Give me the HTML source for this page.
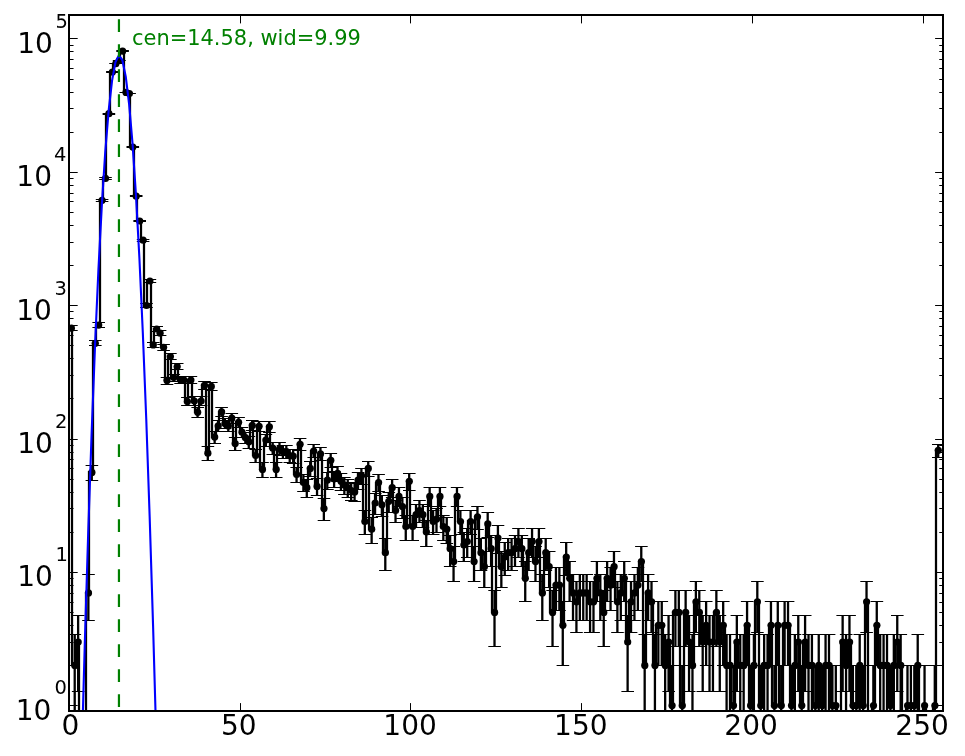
<!DOCTYPE html>
<html><head><meta charset="utf-8"><title>plot</title>
<style>html,body{margin:0;padding:0;background:#fff}body{width:965px;height:756px;overflow:hidden}svg{display:block}text{font-family:"DejaVu Sans","Liberation Sans",sans-serif;fill:#000}</style></head><body>
<svg width="965" height="756" viewBox="0 0 965 756">
<rect x="0" y="0" width="965" height="756" fill="#fff"/>
<defs><clipPath id="ax"><rect x="69.0" y="15.0" width="874.0" height="696.0"/></clipPath></defs>
<g clip-path="url(#ax)">
<path d="M72 328V665H76V642H79V900H83V900H86V593H89V472H93V343H96V325H100V200H103V178H106V114H110V72H113V64H117V61H120V51H124V92H127V94H130V147H134V196H137V221H141V240H144V306H147V281H151V345H154V329H158V333H161V347H165V380H168V356H171V378H175V367H178V380H182V380H185V402H188V380H192V401H195V412H199V401H202V385H206V453H209V386H212V437H216V426H219V412H223V424H226V426H229V418H233V444H236V422H240V432H243V438H246V442H250V425H253V455H257V426H260V469H264V440H267V427H270V448H274V469H277V449H281V452H284V452H287V455H291V456H294V474H298V444H301V483H305V488H308V468H311V451H315V486H318V454H322V509H325V480H328V460H332V479H335V473H339V481H342V485H346V488H349V490H352V492H356V480H359V476H363V521H366V468H369V529H373V503H376V483H380V505H383V553H387V501H390V488H393V511H397V496H400V507H404V527H407V481H410V527H414V515H417V511H421V515H424V532H428V496H431V521H434V519H438V496H441V527H445V529H448V549H451V562H455V496H458V521H462V545H465V541H468V521H472V562H475V517H479V553H482V567H486V524H489V549H492V612H496V538H499V567H503V557H506V553H509V553H513V549H516V541H520V549H523V578H527V553H530V541H533V562H537V541H540V593H544V553H547V567H550V612H554V585H557V585H561V625H564V557H568V578H571V593H574V602H578V593H581V593H585V593H588V602H591V602H595V578H598V593H602V612H605V578H609V585H612V567H615V602H619V593H622V578H626V642H629V602H632V593H636V585H639V562H643V665H646V593H650V602H653V665H656V625H660V625H663V665H667V642H670V706H673V612H677V612H680V706H684V612H687V642H691V665H694V602H697V612H701V642H704V625H708V642H711V642H714V612H718V642H721V625H725V665H728V665H731V706H735V642H738V665H742V665H745V625H749V706H752V665H755V602H759V706H762V665H766V665H769V625H772V706H776V625H779V706H783V625H786V625H790V706H793V665H796V642H800V706H803V642H807V665H810V665H813V706H817V665H820V706H824V665H827V665H831V706H834V706H837V900H841V642H844V665H848V642H851V706H854V706H858V665H861V706H865V602H868V900H872V706H875V625H878V665H882V665H885V665H889V706H892V665H895V642H899V665H902V900H906V706H909V706H913V706H916V665H919V900H923V706H926V900H930V900H933V706H936V450H940" fill="none" stroke="#000" stroke-width="2.25" stroke-linejoin="miter"/>
<path d="M71.30 326.0V330.4M74.71 634.5V720.0M78.13 615.5V691.8M88.37 574.3V620.4M91.78 465.1V480.7M95.19 340.8V345.9M98.60 322.9V327.3M102.02 199.6V201.0M105.43 177.8V179.0M108.84 113.4V114.1M112.26 71.9V72.3M115.67 63.5V63.9M119.08 60.5V60.9M122.50 51.0V51.4M125.91 92.1V92.7M129.32 93.2V93.8M132.73 146.6V147.6M136.15 195.5V196.9M139.56 220.1V221.9M142.97 239.2V241.3M146.39 303.7V307.4M149.80 279.5V282.5M153.21 342.3V347.5M156.62 326.8V331.3M160.04 330.9V335.6M163.45 344.7V350.0M166.86 377.0V384.0M170.28 353.7V359.4M173.69 374.2V381.0M177.10 363.5V369.7M180.52 376.6V383.6M183.93 376.6V383.6M187.34 397.6V406.0M190.76 376.6V383.6M194.17 397.0V405.3M197.58 407.9V417.1M200.99 397.0V405.3M204.41 381.7V389.0M207.82 447.0V460.2M211.23 382.8V390.2M214.65 431.6V443.1M218.06 420.9V431.3M221.47 407.5V416.7M224.88 418.7V428.9M228.30 420.9V431.3M231.71 413.4V423.1M235.12 437.9V450.0M238.54 417.5V427.5M241.95 427.0V438.0M245.36 432.2V443.7M248.78 436.1V448.0M252.19 420.5V430.8M255.60 449.1V462.6M259.01 421.4V431.8M262.43 462.3V477.4M265.84 434.4V446.1M269.25 421.8V432.3M272.67 442.2V454.9M276.08 462.3V477.4M279.49 442.9V455.6M282.91 445.6V458.6M286.32 445.6V458.6M289.73 449.1V462.6M293.14 449.9V463.4M296.56 467.1V483.0M299.97 438.5V450.7M303.38 474.7V491.7M306.80 479.5V497.3M310.21 461.4V476.4M313.62 444.9V457.8M317.04 478.2V495.8M320.45 447.7V461.0M323.86 498.8V520.2M327.27 472.4V489.1M330.69 453.7V467.7M334.10 471.3V487.8M337.51 466.1V481.8M340.93 473.5V490.4M344.34 477.0V494.4M347.75 479.5V497.3M351.17 482.0V500.3M354.58 483.4V501.9M357.99 472.4V489.1M361.40 468.1V484.1M364.82 510.7V534.7M368.23 461.4V476.4M371.64 517.8V543.5M375.06 493.7V514.1M378.47 474.7V491.7M381.88 495.4V516.1M385.30 539.0V570.7M388.71 492.1V512.2M392.12 479.5V497.3M395.53 500.6V522.4M398.95 487.6V506.8M402.36 497.1V518.1M405.77 515.3V540.4M409.19 473.5V490.4M412.60 515.3V540.4M416.01 504.5V527.0M419.43 500.6V522.4M422.84 504.5V527.0M426.25 520.4V546.7M429.66 487.6V506.8M433.08 510.7V534.7M436.49 508.6V532.0M439.90 487.6V506.8M443.32 515.3V540.4M446.73 517.8V543.5M450.14 535.4V566.0M453.56 546.9V581.4M456.97 487.6V506.8M460.38 510.7V534.7M463.79 532.0V561.6M467.21 528.9V557.6M470.62 510.7V534.7M474.03 546.9V581.4M477.45 506.5V529.5M480.86 539.0V570.7M484.27 551.4V587.5M487.69 513.0V537.5M491.10 535.4V566.0M494.51 590.9V646.7M497.92 525.9V553.7M501.34 551.4V587.5M504.75 542.8V575.8M508.16 539.0V570.7M511.58 539.0V570.7M514.99 535.4V566.0M518.40 528.9V557.6M521.82 535.4V566.0M525.23 561.6V601.8M528.64 539.0V570.7M532.05 528.9V557.6M535.47 546.9V581.4M538.88 528.9V557.6M542.29 574.3V620.4M545.71 539.0V570.7M549.12 551.4V587.5M552.53 590.9V646.7M555.95 567.6V610.4M559.36 567.6V610.4M562.77 601.8V665.4M566.18 542.8V575.8M569.60 561.6V601.8M573.01 574.3V620.4M576.42 582.0V632.2M579.84 574.3V620.4M583.25 574.3V620.4M586.66 574.3V620.4M590.08 582.0V632.2M593.49 582.0V632.2M596.90 561.6V601.8M600.31 574.3V620.4M603.73 590.9V646.7M607.14 561.6V601.8M610.55 567.6V610.4M613.97 551.4V587.5M617.38 582.0V632.2M620.79 574.3V620.4M624.21 561.6V601.8M627.62 615.5V691.8M631.03 582.0V632.2M634.44 574.3V620.4M637.86 567.6V610.4M641.27 546.9V581.4M644.68 634.5V720.0M648.10 574.3V620.4M651.51 582.0V632.2M654.92 634.5V720.0M658.34 601.8V665.4M661.75 601.8V665.4M665.16 634.5V720.0M668.57 615.5V691.8M671.99 665.4V720.0M675.40 590.9V646.7M678.81 590.9V646.7M682.23 665.4V720.0M685.64 590.9V646.7M689.05 615.5V691.8M692.47 634.5V720.0M695.88 582.0V632.2M699.29 590.9V646.7M702.70 615.5V691.8M706.12 601.8V665.4M709.53 615.5V691.8M712.94 615.5V691.8M716.36 590.9V646.7M719.77 615.5V691.8M723.18 601.8V665.4M726.60 634.5V720.0M730.01 634.5V720.0M733.42 665.4V720.0M736.83 615.5V691.8M740.25 634.5V720.0M743.66 634.5V720.0M747.07 601.8V665.4M750.49 665.4V720.0M753.90 634.5V720.0M757.31 582.0V632.2M760.73 665.4V720.0M764.14 634.5V720.0M767.55 634.5V720.0M770.96 601.8V665.4M774.38 665.4V720.0M777.79 601.8V665.4M781.20 665.4V720.0M784.62 601.8V665.4M788.03 601.8V665.4M791.44 665.4V720.0M794.86 634.5V720.0M798.27 615.5V691.8M801.68 665.4V720.0M805.09 615.5V691.8M808.51 634.5V720.0M811.92 634.5V720.0M815.33 665.4V720.0M818.75 634.5V720.0M822.16 665.4V720.0M825.57 634.5V720.0M828.99 634.5V720.0M832.40 665.4V720.0M835.81 665.4V720.0M842.64 615.5V691.8M846.05 634.5V720.0M849.46 615.5V691.8M852.88 665.4V720.0M856.29 665.4V720.0M859.70 634.5V720.0M863.12 665.4V720.0M866.53 582.0V632.2M873.35 665.4V720.0M876.77 601.8V665.4M880.18 634.5V720.0M883.59 634.5V720.0M887.01 634.5V720.0M890.42 665.4V720.0M893.83 634.5V720.0M897.25 615.5V691.8M900.66 634.5V720.0M907.48 665.4V720.0M910.90 665.4V720.0M914.31 665.4V720.0M917.72 634.5V720.0M924.55 665.4V720.0M934.79 665.4V720.0M938.20 444.2V457.1" fill="none" stroke="#000" stroke-width="2.3"/>
<path d="M65.1 325.5H77.7M65.1 330.5H77.7M68.5 634.5H81.1M71.9 615.5H84.5M71.9 691.5H84.5M82.2 574.5H94.8M82.2 620.5H94.8M85.6 465.5H98.2M85.6 480.5H98.2M89.0 340.5H101.6M89.0 345.5H101.6M92.4 322.5H105.0M92.4 327.5H105.0M95.8 199.5H108.4M95.8 201.5H108.4M99.2 177.5H111.8M99.2 179.5H111.8M102.6 113.5H115.2M102.6 114.5H115.2M106.1 71.5H118.7M106.1 72.5H118.7M109.5 63.5H122.1M109.5 63.5H122.1M112.9 60.5H125.5M112.9 60.5H125.5M116.3 50.5H128.9M116.3 51.5H128.9M119.7 92.5H132.3M119.7 92.5H132.3M123.1 93.5H135.7M123.1 93.5H135.7M126.5 146.5H139.1M126.5 147.5H139.1M129.9 195.5H142.5M129.9 196.5H142.5M133.4 220.5H146.0M133.4 221.5H146.0M136.8 239.5H149.4M136.8 241.5H149.4M140.2 303.5H152.8M140.2 307.5H152.8M143.6 279.5H156.2M143.6 282.5H156.2M147.0 342.5H159.6M147.0 347.5H159.6M150.4 326.5H163.0M150.4 331.5H163.0M153.8 330.5H166.4M153.8 335.5H166.4M157.3 344.5H169.9M157.3 350.5H169.9M160.7 377.5H173.3M160.7 384.5H173.3M164.1 353.5H176.7M164.1 359.5H176.7M167.5 374.5H180.1M167.5 381.5H180.1M170.9 363.5H183.5M170.9 369.5H183.5M174.3 376.5H186.9M174.3 383.5H186.9M177.7 376.5H190.3M177.7 383.5H190.3M181.1 397.5H193.7M181.1 405.5H193.7M184.6 376.5H197.2M184.6 383.5H197.2M188.0 396.5H200.6M188.0 405.5H200.6M191.4 407.5H204.0M191.4 417.5H204.0M194.8 396.5H207.4M194.8 405.5H207.4M198.2 381.5H210.8M198.2 389.5H210.8M201.6 446.5H214.2M201.6 460.5H214.2M205.0 382.5H217.6M205.0 390.5H217.6M208.4 431.5H221.0M208.4 443.5H221.0M211.9 420.5H224.5M211.9 431.5H224.5M215.3 407.5H227.9M215.3 416.5H227.9M218.7 418.5H231.3M218.7 428.5H231.3M222.1 420.5H234.7M222.1 431.5H234.7M225.5 413.5H238.1M225.5 423.5H238.1M228.9 437.5H241.5M228.9 450.5H241.5M232.3 417.5H244.9M232.3 427.5H244.9M235.7 427.5H248.3M235.7 437.5H248.3M239.2 432.5H251.8M239.2 443.5H251.8M242.6 436.5H255.2M242.6 448.5H255.2M246.0 420.5H258.6M246.0 430.5H258.6M249.4 449.5H262.0M249.4 462.5H262.0M252.8 421.5H265.4M252.8 431.5H265.4M256.2 462.5H268.8M256.2 477.5H268.8M259.6 434.5H272.2M259.6 446.5H272.2M263.1 421.5H275.7M263.1 432.5H275.7M266.5 442.5H279.1M266.5 454.5H279.1M269.9 462.5H282.5M269.9 477.5H282.5M273.3 442.5H285.9M273.3 455.5H285.9M276.7 445.5H289.3M276.7 458.5H289.3M280.1 445.5H292.7M280.1 458.5H292.7M283.5 449.5H296.1M283.5 462.5H296.1M286.9 449.5H299.5M286.9 463.5H299.5M290.4 467.5H303.0M290.4 482.5H303.0M293.8 438.5H306.4M293.8 450.5H306.4M297.2 474.5H309.8M297.2 491.5H309.8M300.6 479.5H313.2M300.6 497.5H313.2M304.0 461.5H316.6M304.0 476.5H316.6M307.4 444.5H320.0M307.4 457.5H320.0M310.8 478.5H323.4M310.8 495.5H323.4M314.2 447.5H326.8M314.2 460.5H326.8M317.7 498.5H330.3M317.7 520.5H330.3M321.1 472.5H333.7M321.1 489.5H333.7M324.5 453.5H337.1M324.5 467.5H337.1M327.9 471.5H340.5M327.9 487.5H340.5M331.3 466.5H343.9M331.3 481.5H343.9M334.7 473.5H347.3M334.7 490.5H347.3M338.1 477.5H350.7M338.1 494.5H350.7M341.6 479.5H354.2M341.6 497.5H354.2M345.0 482.5H357.6M345.0 500.5H357.6M348.4 483.5H361.0M348.4 501.5H361.0M351.8 472.5H364.4M351.8 489.5H364.4M355.2 468.5H367.8M355.2 484.5H367.8M358.6 510.5H371.2M358.6 534.5H371.2M362.0 461.5H374.6M362.0 476.5H374.6M365.4 517.5H378.0M365.4 543.5H378.0M368.9 493.5H381.5M368.9 514.5H381.5M372.3 474.5H384.9M372.3 491.5H384.9M375.7 495.5H388.3M375.7 516.5H388.3M379.1 538.5H391.7M379.1 570.5H391.7M382.5 492.5H395.1M382.5 512.5H395.1M385.9 479.5H398.5M385.9 497.5H398.5M389.3 500.5H401.9M389.3 522.5H401.9M392.7 487.5H405.3M392.7 506.5H405.3M396.2 497.5H408.8M396.2 518.5H408.8M399.6 515.5H412.2M399.6 540.5H412.2M403.0 473.5H415.6M403.0 490.5H415.6M406.4 515.5H419.0M406.4 540.5H419.0M409.8 504.5H422.4M409.8 527.5H422.4M413.2 500.5H425.8M413.2 522.5H425.8M416.6 504.5H429.2M416.6 527.5H429.2M420.1 520.5H432.7M420.1 546.5H432.7M423.5 487.5H436.1M423.5 506.5H436.1M426.9 510.5H439.5M426.9 534.5H439.5M430.3 508.5H442.9M430.3 532.5H442.9M433.7 487.5H446.3M433.7 506.5H446.3M437.1 515.5H449.7M437.1 540.5H449.7M440.5 517.5H453.1M440.5 543.5H453.1M443.9 535.5H456.5M443.9 566.5H456.5M447.4 546.5H460.0M447.4 581.5H460.0M450.8 487.5H463.4M450.8 506.5H463.4M454.2 510.5H466.8M454.2 534.5H466.8M457.6 532.5H470.2M457.6 561.5H470.2M461.0 528.5H473.6M461.0 557.5H473.6M464.4 510.5H477.0M464.4 534.5H477.0M467.8 546.5H480.4M467.8 581.5H480.4M471.2 506.5H483.8M471.2 529.5H483.8M474.7 538.5H487.3M474.7 570.5H487.3M478.1 551.5H490.7M478.1 587.5H490.7M481.5 512.5H494.1M481.5 537.5H494.1M484.9 535.5H497.5M484.9 566.5H497.5M488.3 590.5H500.9M488.3 646.5H500.9M491.7 525.5H504.3M491.7 553.5H504.3M495.1 551.5H507.7M495.1 587.5H507.7M498.6 542.5H511.2M498.6 575.5H511.2M502.0 538.5H514.6M502.0 570.5H514.6M505.4 538.5H518.0M505.4 570.5H518.0M508.8 535.5H521.4M508.8 566.5H521.4M512.2 528.5H524.8M512.2 557.5H524.8M515.6 535.5H528.2M515.6 566.5H528.2M519.0 561.5H531.6M519.0 601.5H531.6M522.4 538.5H535.0M522.4 570.5H535.0M525.9 528.5H538.5M525.9 557.5H538.5M529.3 546.5H541.9M529.3 581.5H541.9M532.7 528.5H545.3M532.7 557.5H545.3M536.1 574.5H548.7M536.1 620.5H548.7M539.5 538.5H552.1M539.5 570.5H552.1M542.9 551.5H555.5M542.9 587.5H555.5M546.3 590.5H558.9M546.3 646.5H558.9M549.7 567.5H562.3M549.7 610.5H562.3M553.2 567.5H565.8M553.2 610.5H565.8M556.6 601.5H569.2M556.6 665.5H569.2M560.0 542.5H572.6M560.0 575.5H572.6M563.4 561.5H576.0M563.4 601.5H576.0M566.8 574.5H579.4M566.8 620.5H579.4M570.2 581.5H582.8M570.2 632.5H582.8M573.6 574.5H586.2M573.6 620.5H586.2M577.1 574.5H589.6M577.1 620.5H589.6M580.5 574.5H593.1M580.5 620.5H593.1M583.9 581.5H596.5M583.9 632.5H596.5M587.3 581.5H599.9M587.3 632.5H599.9M590.7 561.5H603.3M590.7 601.5H603.3M594.1 574.5H606.7M594.1 620.5H606.7M597.5 590.5H610.1M597.5 646.5H610.1M600.9 561.5H613.5M600.9 601.5H613.5M604.4 567.5H617.0M604.4 610.5H617.0M607.8 551.5H620.4M607.8 587.5H620.4M611.2 581.5H623.8M611.2 632.5H623.8M614.6 574.5H627.2M614.6 620.5H627.2M618.0 561.5H630.6M618.0 601.5H630.6M621.4 615.5H634.0M621.4 691.5H634.0M624.8 581.5H637.4M624.8 632.5H637.4M628.2 574.5H640.8M628.2 620.5H640.8M631.7 567.5H644.3M631.7 610.5H644.3M635.1 546.5H647.7M635.1 581.5H647.7M638.5 634.5H651.1M641.9 574.5H654.5M641.9 620.5H654.5M645.3 581.5H657.9M645.3 632.5H657.9M648.7 634.5H661.3M652.1 601.5H664.7M652.1 665.5H664.7M655.5 601.5H668.1M655.5 665.5H668.1M659.0 634.5H671.6M662.4 615.5H675.0M662.4 691.5H675.0M665.8 665.5H678.4M669.2 590.5H681.8M669.2 646.5H681.8M672.6 590.5H685.2M672.6 646.5H685.2M676.0 665.5H688.6M679.4 590.5H692.0M679.4 646.5H692.0M682.9 615.5H695.5M682.9 691.5H695.5M686.3 634.5H698.9M689.7 581.5H702.3M689.7 632.5H702.3M693.1 590.5H705.7M693.1 646.5H705.7M696.5 615.5H709.1M696.5 691.5H709.1M699.9 601.5H712.5M699.9 665.5H712.5M703.3 615.5H715.9M703.3 691.5H715.9M706.7 615.5H719.3M706.7 691.5H719.3M710.2 590.5H722.8M710.2 646.5H722.8M713.6 615.5H726.2M713.6 691.5H726.2M717.0 601.5H729.6M717.0 665.5H729.6M720.4 634.5H733.0M723.8 634.5H736.4M727.2 665.5H739.8M730.6 615.5H743.2M730.6 691.5H743.2M734.0 634.5H746.6M737.5 634.5H750.1M740.9 601.5H753.5M740.9 665.5H753.5M744.3 665.5H756.9M747.7 634.5H760.3M751.1 581.5H763.7M751.1 632.5H763.7M754.5 665.5H767.1M757.9 634.5H770.5M761.4 634.5H774.0M764.8 601.5H777.4M764.8 665.5H777.4M768.2 665.5H780.8M771.6 601.5H784.2M771.6 665.5H784.2M775.0 665.5H787.6M778.4 601.5H791.0M778.4 665.5H791.0M781.8 601.5H794.4M781.8 665.5H794.4M785.2 665.5H797.8M788.7 634.5H801.3M792.1 615.5H804.7M792.1 691.5H804.7M795.5 665.5H808.1M798.9 615.5H811.5M798.9 691.5H811.5M802.3 634.5H814.9M805.7 634.5H818.3M809.1 665.5H821.7M812.5 634.5H825.1M816.0 665.5H828.6M819.4 634.5H832.0M822.8 634.5H835.4M826.2 665.5H838.8M829.6 665.5H842.2M836.4 615.5H849.0M836.4 691.5H849.0M839.9 634.5H852.5M843.3 615.5H855.9M843.3 691.5H855.9M846.7 665.5H859.3M850.1 665.5H862.7M853.5 634.5H866.1M856.9 665.5H869.5M860.3 581.5H872.9M860.3 632.5H872.9M867.2 665.5H879.8M870.6 601.5H883.2M870.6 665.5H883.2M874.0 634.5H886.6M877.4 634.5H890.0M880.8 634.5H893.4M884.2 665.5H896.8M887.6 634.5H900.2M891.0 615.5H903.6M891.0 691.5H903.6M894.5 634.5H907.1M901.3 665.5H913.9M904.7 665.5H917.3M908.1 665.5H920.7M911.5 634.5H924.1M918.4 665.5H930.9M928.6 665.5H941.2M932.0 444.5H944.6M932.0 457.5H944.6" fill="none" stroke="#000" stroke-width="1"/>
<g fill="#000"><circle cx="71.4" cy="328.2" r="3.6"/><circle cx="74.8" cy="665.4" r="3.6"/><circle cx="78.2" cy="642.0" r="3.6"/><circle cx="88.5" cy="592.9" r="3.6"/><circle cx="91.9" cy="472.4" r="3.6"/><circle cx="95.3" cy="343.3" r="3.6"/><circle cx="98.7" cy="325.1" r="3.6"/><circle cx="102.1" cy="200.3" r="3.6"/><circle cx="105.5" cy="178.4" r="3.6"/><circle cx="108.9" cy="113.7" r="3.6"/><circle cx="112.4" cy="72.1" r="3.6"/><circle cx="115.8" cy="63.7" r="3.6"/><circle cx="119.2" cy="60.7" r="3.6"/><circle cx="122.6" cy="51.2" r="3.6"/><circle cx="126.0" cy="92.4" r="3.6"/><circle cx="129.4" cy="93.5" r="3.6"/><circle cx="132.8" cy="147.1" r="3.6"/><circle cx="136.2" cy="196.2" r="3.6"/><circle cx="139.7" cy="221.0" r="3.6"/><circle cx="143.1" cy="240.2" r="3.6"/><circle cx="146.5" cy="305.5" r="3.6"/><circle cx="149.9" cy="281.0" r="3.6"/><circle cx="153.3" cy="344.9" r="3.6"/><circle cx="156.7" cy="329.0" r="3.6"/><circle cx="160.1" cy="333.2" r="3.6"/><circle cx="163.6" cy="347.3" r="3.6"/><circle cx="167.0" cy="380.4" r="3.6"/><circle cx="170.4" cy="356.5" r="3.6"/><circle cx="173.8" cy="377.5" r="3.6"/><circle cx="177.2" cy="366.6" r="3.6"/><circle cx="180.6" cy="380.0" r="3.6"/><circle cx="184.0" cy="380.0" r="3.6"/><circle cx="187.4" cy="401.6" r="3.6"/><circle cx="190.9" cy="380.0" r="3.6"/><circle cx="194.3" cy="401.0" r="3.6"/><circle cx="197.7" cy="412.3" r="3.6"/><circle cx="201.1" cy="401.0" r="3.6"/><circle cx="204.5" cy="385.3" r="3.6"/><circle cx="207.9" cy="453.2" r="3.6"/><circle cx="211.3" cy="386.4" r="3.6"/><circle cx="214.7" cy="437.1" r="3.6"/><circle cx="218.2" cy="425.9" r="3.6"/><circle cx="221.6" cy="411.9" r="3.6"/><circle cx="225.0" cy="423.6" r="3.6"/><circle cx="228.4" cy="425.9" r="3.6"/><circle cx="231.8" cy="418.1" r="3.6"/><circle cx="235.2" cy="443.6" r="3.6"/><circle cx="238.6" cy="422.3" r="3.6"/><circle cx="242.0" cy="432.2" r="3.6"/><circle cx="245.5" cy="437.7" r="3.6"/><circle cx="248.9" cy="441.8" r="3.6"/><circle cx="252.3" cy="425.4" r="3.6"/><circle cx="255.7" cy="455.5" r="3.6"/><circle cx="259.1" cy="426.3" r="3.6"/><circle cx="262.5" cy="469.4" r="3.6"/><circle cx="265.9" cy="440.0" r="3.6"/><circle cx="269.4" cy="426.8" r="3.6"/><circle cx="272.8" cy="448.2" r="3.6"/><circle cx="276.2" cy="469.4" r="3.6"/><circle cx="279.6" cy="448.9" r="3.6"/><circle cx="283.0" cy="451.7" r="3.6"/><circle cx="286.4" cy="451.7" r="3.6"/><circle cx="289.8" cy="455.5" r="3.6"/><circle cx="293.2" cy="456.2" r="3.6"/><circle cx="296.7" cy="474.5" r="3.6"/><circle cx="300.1" cy="444.3" r="3.6"/><circle cx="303.5" cy="482.5" r="3.6"/><circle cx="306.9" cy="487.7" r="3.6"/><circle cx="310.3" cy="468.4" r="3.6"/><circle cx="313.7" cy="451.0" r="3.6"/><circle cx="317.1" cy="486.4" r="3.6"/><circle cx="320.5" cy="453.9" r="3.6"/><circle cx="324.0" cy="508.6" r="3.6"/><circle cx="327.4" cy="480.1" r="3.6"/><circle cx="330.8" cy="460.3" r="3.6"/><circle cx="334.2" cy="479.0" r="3.6"/><circle cx="337.6" cy="473.4" r="3.6"/><circle cx="341.0" cy="481.3" r="3.6"/><circle cx="344.4" cy="485.1" r="3.6"/><circle cx="347.9" cy="487.7" r="3.6"/><circle cx="351.3" cy="490.5" r="3.6"/><circle cx="354.7" cy="491.9" r="3.6"/><circle cx="358.1" cy="480.1" r="3.6"/><circle cx="361.5" cy="475.6" r="3.6"/><circle cx="364.9" cy="521.5" r="3.6"/><circle cx="368.3" cy="468.4" r="3.6"/><circle cx="371.7" cy="529.2" r="3.6"/><circle cx="375.2" cy="503.0" r="3.6"/><circle cx="378.6" cy="482.5" r="3.6"/><circle cx="382.0" cy="504.8" r="3.6"/><circle cx="385.4" cy="552.7" r="3.6"/><circle cx="388.8" cy="501.3" r="3.6"/><circle cx="392.2" cy="487.7" r="3.6"/><circle cx="395.6" cy="510.5" r="3.6"/><circle cx="399.0" cy="496.4" r="3.6"/><circle cx="402.5" cy="506.7" r="3.6"/><circle cx="405.9" cy="526.5" r="3.6"/><circle cx="409.3" cy="481.3" r="3.6"/><circle cx="412.7" cy="526.5" r="3.6"/><circle cx="416.1" cy="514.7" r="3.6"/><circle cx="419.5" cy="510.5" r="3.6"/><circle cx="422.9" cy="514.7" r="3.6"/><circle cx="426.4" cy="532.0" r="3.6"/><circle cx="429.8" cy="496.4" r="3.6"/><circle cx="433.2" cy="521.5" r="3.6"/><circle cx="436.6" cy="519.1" r="3.6"/><circle cx="440.0" cy="496.4" r="3.6"/><circle cx="443.4" cy="526.5" r="3.6"/><circle cx="446.8" cy="529.2" r="3.6"/><circle cx="450.2" cy="548.7" r="3.6"/><circle cx="453.7" cy="561.6" r="3.6"/><circle cx="457.1" cy="496.4" r="3.6"/><circle cx="460.5" cy="521.5" r="3.6"/><circle cx="463.9" cy="545.0" r="3.6"/><circle cx="467.3" cy="541.5" r="3.6"/><circle cx="470.7" cy="521.5" r="3.6"/><circle cx="474.1" cy="561.6" r="3.6"/><circle cx="477.5" cy="516.8" r="3.6"/><circle cx="481.0" cy="552.7" r="3.6"/><circle cx="484.4" cy="566.7" r="3.6"/><circle cx="487.8" cy="523.9" r="3.6"/><circle cx="491.2" cy="548.7" r="3.6"/><circle cx="494.6" cy="612.4" r="3.6"/><circle cx="498.0" cy="538.1" r="3.6"/><circle cx="501.4" cy="566.7" r="3.6"/><circle cx="504.9" cy="557.0" r="3.6"/><circle cx="508.3" cy="552.7" r="3.6"/><circle cx="511.7" cy="552.7" r="3.6"/><circle cx="515.1" cy="548.7" r="3.6"/><circle cx="518.5" cy="541.5" r="3.6"/><circle cx="521.9" cy="548.7" r="3.6"/><circle cx="525.3" cy="578.3" r="3.6"/><circle cx="528.7" cy="552.7" r="3.6"/><circle cx="532.2" cy="541.5" r="3.6"/><circle cx="535.6" cy="561.6" r="3.6"/><circle cx="539.0" cy="541.5" r="3.6"/><circle cx="542.4" cy="592.9" r="3.6"/><circle cx="545.8" cy="552.7" r="3.6"/><circle cx="549.2" cy="566.7" r="3.6"/><circle cx="552.6" cy="612.4" r="3.6"/><circle cx="556.0" cy="585.1" r="3.6"/><circle cx="559.5" cy="585.1" r="3.6"/><circle cx="562.9" cy="625.3" r="3.6"/><circle cx="566.3" cy="557.0" r="3.6"/><circle cx="569.7" cy="578.3" r="3.6"/><circle cx="573.1" cy="592.9" r="3.6"/><circle cx="576.5" cy="601.8" r="3.6"/><circle cx="579.9" cy="592.9" r="3.6"/><circle cx="583.4" cy="592.9" r="3.6"/><circle cx="586.8" cy="592.9" r="3.6"/><circle cx="590.2" cy="601.8" r="3.6"/><circle cx="593.6" cy="601.8" r="3.6"/><circle cx="597.0" cy="578.3" r="3.6"/><circle cx="600.4" cy="592.9" r="3.6"/><circle cx="603.8" cy="612.4" r="3.6"/><circle cx="607.2" cy="578.3" r="3.6"/><circle cx="610.7" cy="585.1" r="3.6"/><circle cx="614.1" cy="566.7" r="3.6"/><circle cx="617.5" cy="601.8" r="3.6"/><circle cx="620.9" cy="592.9" r="3.6"/><circle cx="624.3" cy="578.3" r="3.6"/><circle cx="627.7" cy="642.0" r="3.6"/><circle cx="631.1" cy="601.8" r="3.6"/><circle cx="634.5" cy="592.9" r="3.6"/><circle cx="638.0" cy="585.1" r="3.6"/><circle cx="641.4" cy="561.6" r="3.6"/><circle cx="644.8" cy="665.4" r="3.6"/><circle cx="648.2" cy="592.9" r="3.6"/><circle cx="651.6" cy="601.8" r="3.6"/><circle cx="655.0" cy="665.4" r="3.6"/><circle cx="658.4" cy="625.3" r="3.6"/><circle cx="661.8" cy="625.3" r="3.6"/><circle cx="665.3" cy="665.4" r="3.6"/><circle cx="668.7" cy="642.0" r="3.6"/><circle cx="672.1" cy="705.6" r="3.6"/><circle cx="675.5" cy="612.4" r="3.6"/><circle cx="678.9" cy="612.4" r="3.6"/><circle cx="682.3" cy="705.6" r="3.6"/><circle cx="685.7" cy="612.4" r="3.6"/><circle cx="689.2" cy="642.0" r="3.6"/><circle cx="692.6" cy="665.4" r="3.6"/><circle cx="696.0" cy="601.8" r="3.6"/><circle cx="699.4" cy="612.4" r="3.6"/><circle cx="702.8" cy="642.0" r="3.6"/><circle cx="706.2" cy="625.3" r="3.6"/><circle cx="709.6" cy="642.0" r="3.6"/><circle cx="713.0" cy="642.0" r="3.6"/><circle cx="716.5" cy="612.4" r="3.6"/><circle cx="719.9" cy="642.0" r="3.6"/><circle cx="723.3" cy="625.3" r="3.6"/><circle cx="726.7" cy="665.4" r="3.6"/><circle cx="730.1" cy="665.4" r="3.6"/><circle cx="733.5" cy="705.6" r="3.6"/><circle cx="736.9" cy="642.0" r="3.6"/><circle cx="740.3" cy="665.4" r="3.6"/><circle cx="743.8" cy="665.4" r="3.6"/><circle cx="747.2" cy="625.3" r="3.6"/><circle cx="750.6" cy="705.6" r="3.6"/><circle cx="754.0" cy="665.4" r="3.6"/><circle cx="757.4" cy="601.8" r="3.6"/><circle cx="760.8" cy="705.6" r="3.6"/><circle cx="764.2" cy="665.4" r="3.6"/><circle cx="767.7" cy="665.4" r="3.6"/><circle cx="771.1" cy="625.3" r="3.6"/><circle cx="774.5" cy="705.6" r="3.6"/><circle cx="777.9" cy="625.3" r="3.6"/><circle cx="781.3" cy="705.6" r="3.6"/><circle cx="784.7" cy="625.3" r="3.6"/><circle cx="788.1" cy="625.3" r="3.6"/><circle cx="791.5" cy="705.6" r="3.6"/><circle cx="795.0" cy="665.4" r="3.6"/><circle cx="798.4" cy="642.0" r="3.6"/><circle cx="801.8" cy="705.6" r="3.6"/><circle cx="805.2" cy="642.0" r="3.6"/><circle cx="808.6" cy="665.4" r="3.6"/><circle cx="812.0" cy="665.4" r="3.6"/><circle cx="815.4" cy="705.6" r="3.6"/><circle cx="818.8" cy="665.4" r="3.6"/><circle cx="822.3" cy="705.6" r="3.6"/><circle cx="825.7" cy="665.4" r="3.6"/><circle cx="829.1" cy="665.4" r="3.6"/><circle cx="832.5" cy="705.6" r="3.6"/><circle cx="835.9" cy="705.6" r="3.6"/><circle cx="842.7" cy="642.0" r="3.6"/><circle cx="846.2" cy="665.4" r="3.6"/><circle cx="849.6" cy="642.0" r="3.6"/><circle cx="853.0" cy="705.6" r="3.6"/><circle cx="856.4" cy="705.6" r="3.6"/><circle cx="859.8" cy="665.4" r="3.6"/><circle cx="863.2" cy="705.6" r="3.6"/><circle cx="866.6" cy="601.8" r="3.6"/><circle cx="873.5" cy="705.6" r="3.6"/><circle cx="876.9" cy="625.3" r="3.6"/><circle cx="880.3" cy="665.4" r="3.6"/><circle cx="883.7" cy="665.4" r="3.6"/><circle cx="887.1" cy="665.4" r="3.6"/><circle cx="890.5" cy="705.6" r="3.6"/><circle cx="893.9" cy="665.4" r="3.6"/><circle cx="897.3" cy="642.0" r="3.6"/><circle cx="900.8" cy="665.4" r="3.6"/><circle cx="907.6" cy="705.6" r="3.6"/><circle cx="911.0" cy="705.6" r="3.6"/><circle cx="914.4" cy="705.6" r="3.6"/><circle cx="917.8" cy="665.4" r="3.6"/><circle cx="924.6" cy="705.6" r="3.6"/><circle cx="934.9" cy="705.6" r="3.6"/><circle cx="938.3" cy="450.3" r="3.6"/></g>
<polyline points="71.11,1204.95 74.52,1047.45 77.94,901.54 81.35,767.22 84.77,644.51 88.19,533.40 91.60,433.88 95.02,345.96 98.43,269.65 101.85,204.93 105.26,151.80 108.68,110.28 112.09,80.36 115.51,62.03 118.92,55.30 122.34,60.18 125.76,76.65 129.17,104.71 132.59,144.38 136.00,195.65 139.42,258.51 142.83,332.97 146.25,419.04 149.66,516.70 153.08,625.95 156.50,746.81 159.91,879.27 163.33,1023.32 166.74,1178.97 170.16,1346.23 173.57,1525.08 176.99,1715.52 180.40,1917.57 183.82,2131.22 187.23,2356.46 190.65,2593.30 194.07,2841.75 197.48,3101.79 200.90,3373.42 204.31,3656.66" fill="none" stroke="#0000ff" stroke-width="2.1" stroke-linejoin="miter"/>
<path d="M118.95 19.2V31.9M118.95 44.2V56.9M118.95 69.2V81.9M118.95 94.2V106.9M118.95 119.2V131.9M118.95 144.2V156.9M118.95 169.2V181.9M118.95 194.2V206.9M118.95 219.2V231.9M118.95 244.2V256.9M118.95 269.2V281.9M118.95 294.2V306.9M118.95 319.2V331.9M118.95 344.2V356.9M118.95 369.2V381.9M118.95 394.2V406.9M118.95 419.2V431.9M118.95 444.2V456.9M118.95 469.2V481.9M118.95 494.2V506.9M118.95 519.2V531.9M118.95 544.2V556.9M118.95 569.2V581.9M118.95 594.2V606.9M118.95 619.2V631.9M118.95 644.2V656.9M118.95 669.2V681.9M118.95 694.2V706.9" fill="none" stroke="#008000" stroke-width="2.2"/>
</g>
<path d="M69.5 711.0V703.1M69.5 15.0V23.4M240.5 711.0V703.1M240.5 15.0V23.4M410.5 711.0V703.1M410.5 15.0V23.4M581.5 711.0V703.1M581.5 15.0V23.4M752.5 711.0V703.1M752.5 15.0V23.4M923.5 711.0V703.1M923.5 15.0V23.4M69.0 705.5H77.7M943.0 705.5H935.1M69.0 665.5H73.55M943.0 665.5H939.25M69.0 642.5H73.55M943.0 642.5H939.25M69.0 625.5H73.55M943.0 625.5H939.25M69.0 612.5H73.55M943.0 612.5H939.25M69.0 602.5H73.55M943.0 602.5H939.25M69.0 593.5H73.55M943.0 593.5H939.25M69.0 585.5H73.55M943.0 585.5H939.25M69.0 578.5H73.55M943.0 578.5H939.25M69.0 572.5H77.7M943.0 572.5H935.1M69.0 532.5H73.55M943.0 532.5H939.25M69.0 508.5H73.55M943.0 508.5H939.25M69.0 492.5H73.55M943.0 492.5H939.25M69.0 479.5H73.55M943.0 479.5H939.25M69.0 468.5H73.55M943.0 468.5H939.25M69.0 459.5H73.55M943.0 459.5H939.25M69.0 452.5H73.55M943.0 452.5H939.25M69.0 445.5H73.55M943.0 445.5H939.25M69.0 439.5H77.7M943.0 439.5H935.1M69.0 398.5H73.55M943.0 398.5H939.25M69.0 375.5H73.55M943.0 375.5H939.25M69.0 358.5H73.55M943.0 358.5H939.25M69.0 345.5H73.55M943.0 345.5H939.25M69.0 335.5H73.55M943.0 335.5H939.25M69.0 326.5H73.55M943.0 326.5H939.25M69.0 318.5H73.55M943.0 318.5H939.25M69.0 311.5H73.55M943.0 311.5H939.25M69.0 305.5H77.7M943.0 305.5H935.1M69.0 265.5H73.55M943.0 265.5H939.25M69.0 242.5H73.55M943.0 242.5H939.25M69.0 225.5H73.55M943.0 225.5H939.25M69.0 212.5H73.55M943.0 212.5H939.25M69.0 201.5H73.55M943.0 201.5H939.25M69.0 193.5H73.55M943.0 193.5H939.25M69.0 185.5H73.55M943.0 185.5H939.25M69.0 178.5H73.55M943.0 178.5H939.25M69.0 172.5H77.7M943.0 172.5H935.1M69.0 132.5H73.55M943.0 132.5H939.25M69.0 108.5H73.55M943.0 108.5H939.25M69.0 92.5H73.55M943.0 92.5H939.25M69.0 79.5H73.55M943.0 79.5H939.25M69.0 68.5H73.55M943.0 68.5H939.25M69.0 59.5H73.55M943.0 59.5H939.25M69.0 51.5H73.55M943.0 51.5H939.25M69.0 45.5H73.55M943.0 45.5H939.25M69.0 38.5H77.7M943.0 38.5H935.1" fill="none" stroke="#000" stroke-width="1"/>
<rect x="69.0" y="15.0" width="874.0" height="696.0" fill="none" stroke="#000" stroke-width="2" shape-rendering="crispEdges"/>
<text x="70.40" y="734.5" font-size="28" text-anchor="middle">0</text>
<text x="238.80" y="734.5" font-size="28" text-anchor="middle">50</text>
<text x="410.10" y="734.5" font-size="28" text-anchor="middle">100</text>
<text x="580.80" y="734.5" font-size="28" text-anchor="middle">150</text>
<text x="751.10" y="734.5" font-size="28" text-anchor="middle">200</text>
<text x="922.10" y="734.5" font-size="28" text-anchor="middle">250</text>
<text x="15.75" y="720.0" font-size="28">10</text>
<text x="60.70" y="694.0" font-size="19.5" text-anchor="middle">0</text>
<text x="17.15" y="586.0" font-size="28">10</text>
<text x="61.60" y="560.9" font-size="19.5" text-anchor="middle">1</text>
<text x="17.15" y="453.0" font-size="28">10</text>
<text x="61.20" y="427.7" font-size="19.5" text-anchor="middle">2</text>
<text x="16.25" y="320.0" font-size="28">10</text>
<text x="60.80" y="294.8" font-size="19.5" text-anchor="middle">3</text>
<text x="16.35" y="185.6" font-size="28">10</text>
<text x="60.30" y="160.7" font-size="19.5" text-anchor="middle">4</text>
<text x="17.15" y="53.0" font-size="28">10</text>
<text x="61.60" y="27.5" font-size="19.5" text-anchor="middle">5</text>
<text x="132" y="45.1" font-size="20.95" style="fill:#008000">cen=14.58, wid=9.99</text>
</svg></body></html>
